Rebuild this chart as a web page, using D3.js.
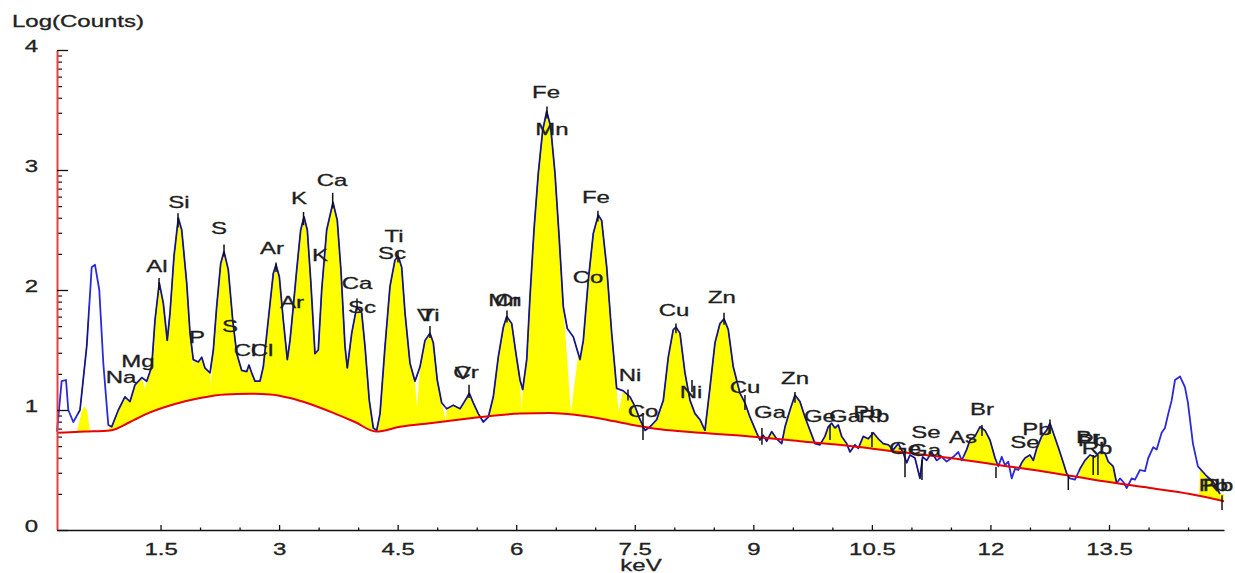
<!DOCTYPE html>
<html><head><meta charset="utf-8">
<script src="https://cdn.jsdelivr.net/npm/d3@7"></script>
<style>
body{margin:0;background:#fff}
svg{display:block}
text{font-family:"Liberation Sans",Arial,sans-serif}
</style>
</head><body>
<svg id="c" width="1235" height="573"></svg>
<script>
// ---------------- data ----------------
const specKeV = [0.19,0.215,0.249,0.304,0.333,0.396,0.481,0.566,0.629,0.671,
0.725,0.776,0.839,0.882,0.966,1.050,1.114,1.177,1.262,1.325,
1.388,1.430,1.484,1.535,1.585,1.620,1.670,1.725,1.768,1.831,
1.873,1.914,1.978,2.021,2.062,2.126,2.168,2.210,2.261,2.303,
2.357,2.413,2.464,2.527,2.590,2.619,2.653,2.695,2.758,2.800,
2.863,2.927,2.961,3.003,3.053,3.104,3.138,3.172,3.223,3.273,
3.315,3.357,3.400,3.454,3.496,3.539,3.602,3.682,3.736,3.783,
3.834,3.863,3.919,3.982,4.045,4.087,4.141,4.192,4.235,4.277,
4.340,4.403,4.466,4.508,4.551,4.593,4.656,4.719,4.783,4.846,
4.909,4.951,5.001,5.057,5.120,5.204,5.289,5.373,5.406,5.457,
5.520,5.583,5.647,5.710,5.773,5.837,5.880,5.943,5.997,6.048,
6.082,6.133,6.174,6.225,6.279,6.335,6.386,6.436,6.491,6.545,
6.596,6.646,6.722,6.807,6.849,6.912,6.975,7.038,7.081,7.145,
7.208,7.271,7.355,7.439,7.503,7.566,7.630,7.693,7.777,7.861,
7.924,7.987,8.022,8.072,8.135,8.199,8.262,8.325,8.388,8.452,
8.515,8.578,8.629,8.683,8.746,8.831,8.894,
8.958,9.042,9.084,9.126,9.169,9.232,9.295,9.359,9.401,9.464,
9.527,9.590,9.654,9.717,9.780,9.843,9.906,9.948,9.991,10.033,
10.075,10.118,10.181,10.223,10.286,10.328,10.391,10.454,10.518,10.581,
10.644,10.708,10.771,10.834,10.898,10.940,10.982,11.045,11.108,11.142,
11.193,11.256,11.319,11.383,11.446,11.530,11.594,11.637,11.699,11.741,
11.804,11.868,11.931,11.994,12.058,12.100,12.143,12.184,12.226,12.269,
12.311,12.352,12.395,12.437,12.500,12.542,12.585,12.648,12.711,12.753,
12.795,12.858,12.922,12.965,13.006,13.070,13.133,13.196,13.259,13.322,
13.386,13.449,13.491,13.553,13.597,13.639,13.681,13.724,13.787,13.829,
13.892,13.955,13.997,14.060,14.103,14.166,14.208,14.250,14.293,14.335,
14.398,14.461,14.499,14.562,14.625,14.735,14.819,14.904];

const specLog = [0.82,1.0,1.24,1.25,1.0,0.90,1.0,1.53,2.19,2.21,
2.0,1.39,0.875,0.86,1.0,1.11,1.07,1.21,1.27,1.24,
1.36,1.75,2.06,1.89,1.58,1.81,2.28,2.60,2.50,2.06,
1.64,1.42,1.40,1.44,1.35,1.31,1.50,1.86,2.22,2.32,
2.17,1.75,1.47,1.33,1.32,1.375,1.31,1.24,1.24,1.36,
1.75,2.14,2.21,2.11,1.75,1.42,1.58,1.81,2.17,2.50,
2.61,2.50,2.08,1.47,1.50,2.0,2.5,2.73,2.58,2.16,
1.53,1.35,1.64,1.86,1.81,1.53,1.08,0.85,0.83,0.97,
1.53,2.03,2.25,2.28,2.19,1.81,1.39,1.24,1.36,1.58,
1.64,1.56,1.25,1.06,1.01,1.04,1.01,1.10,1.14,1.06,
0.97,0.90,0.94,1.11,1.44,1.69,1.78,1.72,1.47,1.25,
1.17,1.42,1.94,2.50,2.97,3.33,3.49,3.36,2.97,2.42,
1.86,1.68,1.61,1.42,1.58,2.08,2.47,2.625,2.58,2.19,
1.64,1.18,1.16,1.11,1.03,0.92,0.83,0.86,0.92,1.08,
1.44,1.67,1.69,1.64,1.31,1.08,0.97,0.92,0.83,1.19,
1.56,1.72,1.76,1.67,1.36,1.14,1.06,
0.94,0.81,0.75,0.79,0.74,0.82,0.76,0.72,0.86,1.0,
1.125,1.07,0.94,0.83,0.72,0.71,0.78,0.86,0.89,0.85,
0.875,0.78,0.72,0.65,0.71,0.68,0.78,0.76,0.81,0.76,
0.72,0.71,0.67,0.72,0.64,0.56,0.625,0.60,0.43,0.61,
0.58,0.65,0.58,0.61,0.57,0.61,0.65,0.58,0.67,0.75,
0.78,0.86,0.83,0.75,0.60,0.53,0.61,0.54,0.57,0.43,
0.51,0.50,0.56,0.60,0.625,0.58,0.68,0.78,0.83,0.89,
0.81,0.69,0.56,0.47,0.43,0.42,0.51,0.58,0.625,0.61,
0.65,0.64,0.57,0.53,0.39,0.43,0.40,0.35,0.43,0.42,
0.50,0.49,0.60,0.69,0.67,0.81,0.85,0.97,1.08,1.25,
1.28,1.19,1.06,0.72,0.53,0.45,0.40,0.30];

// fitted background (red line)
const bgKeV = [0.19,0.544,0.861,1.114,1.367,1.683,1.999,2.316,2.632,2.885,3.138,3.391,3.707,3.960,4.226,
4.530,4.909,5.289,5.668,6.048,6.427,6.744,7.060,7.440,7.819,8.325,8.958,9.590,10.223,10.855,11.488,
12.121,12.753,13.386,14.019,14.525,14.955];
const bgLog = [0.81,0.82,0.83,0.90,0.98,1.05,1.10,1.13,1.135,1.13,1.10,1.05,0.97,0.90,0.82,
0.86,0.89,0.92,0.95,0.97,0.975,0.96,0.93,0.88,0.84,0.81,0.78,0.74,0.70,0.65,0.60,
0.54,0.48,0.41,0.35,0.30,0.24];

// fitted peak envelope (upper limit of yellow area)
const fitKeV = [0.19,0.43,0.443,0.506,0.538,0.570,0.608,0.620,0.835,0.861,1.253,1.303,1.354,
1.860,1.911,1.961,2.088,2.132,2.176,4.669,4.745,4.821,5.023,5.112,5.188,6.010,6.067,6.124,
6.567,6.592,6.693,6.782,6.833,7.238,7.294,7.351,11.311,11.323,11.665,11.678,12.070,12.083,
12.361,12.374,12.981,12.994,13.120,13.133,13.589,13.602,14.639,14.651,14.955];
const fitLog = [0,0,0.82,1.0,1.03,1.0,0.82,0,0,4,4,1.18,4,
4,1.33,4,4,1.2,4,4,1.02,4,4,0.9,4,4,1.0,4,
4,1.9,0.98,1.45,4,4,0.98,4,4,0,0,4,4,0,
0,4,4,0,0,4,4,0,0,4,4];

// element labels (position in keV / Log(Counts) of the label baseline)
const labelNames = ["Na","Mg","Al","Si","P","S","S","Cl","Cl","Ar","Ar","K","K","Ca","Ca","Sc",
"Ti","Sc","Ti","V","Cr","V","Mn","Cr","Fe","Mn","Fe","Co","Ni","Co","Cu","Ni","Zn","Cu","Ga",
"Zn","Ge","Ga","Pb","Rb","Se","Ge","Ga","Br","As","Pb","Se","Br","Pb","Rb","Pb","Rb"];
const labelKeV = [1.000,1.215,1.455,1.734,1.961,2.240,2.379,2.569,2.784,2.910,3.163,3.252,3.517,3.669,3.986,4.049,
4.454,4.428,4.909,4.846,5.365,5.327,5.858,5.890,6.377,6.453,7.009,6.908,7.440,7.604,7.996,8.211,8.603,8.895,9.211,
9.527,9.843,10.160,10.451,10.527,11.184,10.919,11.172,11.893,11.653,12.589,12.437,13.234,13.290,13.348,14.820,14.880];
const labelLog = [1.225,1.358,2.15,2.683,1.558,2.467,1.65,1.45,1.45,2.30,1.85,2.717,2.242,2.867,2.008,1.808,
2.40,2.258,1.742,1.742,1.267,1.258,1.867,1.867,3.60,3.292,2.725,2.058,1.242,0.942,1.783,1.10,1.892,1.142,0.933,
1.217,0.90,0.90,0.933,0.90,0.767,0.633,0.617,0.958,0.725,0.792,0.683,0.725,0.70,0.633,0.325,0.325];

// peak marker strokes
const markKeV = [1.481,1.721,2.303,2.961,3.309,3.678,3.986,4.504,4.909,5.403,5.883,6.389,7.034,7.414,7.604,
8.021,8.224,8.629,8.894,9.109,9.527,9.970,10.501,10.919,11.134,11.893,12.070,12.753,12.985,13.300,13.360,14.930];
const markTop = [2.10,2.64,2.38,2.23,2.65,2.81,1.93,2.32,1.70,1.21,1.83,3.53,2.66,1.17,0.975,
1.72,1.25,1.81,1.125,0.85,1.15,0.875,0.817,0.667,0.583,0.875,0.525,0.92,0.458,0.625,0.625,0.29];
const markBot = [2.0,2.52,2.28,2.15,2.54,2.68,1.83,2.23,1.60,1.10,1.73,3.43,2.57,1.08,0.75,
1.64,1.15,1.71,1.0,0.71,1.06,0.75,0.69,0.44,0.417,0.783,0.433,0.80,0.333,0.458,0.458,0.167];

const xTicks = [1.5,3,4.5,6,7.5,9,10.5,12,13.5];
const xMinor = [2,2.5,3.5,4,5,5.5,6.5,7,8,8.5,9.5,10,11,11.5,12.5,13,14,14.5];
const yTicks = [0,1,2,3,4];
const yMinor = [0.301,0.477,0.602,0.699,0.778,0.845,0.903,0.954,
1.301,1.477,1.602,1.699,1.778,1.845,1.903,1.954,
2.301,2.477,2.602,2.699,2.778,2.845,2.903,2.954,
3.301,3.477,3.602,3.699,3.778,3.845,3.903,3.954];

// ---------------- drawing ----------------
const svg = d3.select('#c');
svg.append('rect').attr('width',1235).attr('height',573).attr('fill','#fff');
const x = d3.scaleLinear().domain([0.19,14.955]).range([57,1224]);
const y = d3.scaleLinear().domain([0,4]).range([530,50]);

const specF = d3.scaleLinear().domain(specKeV).range(specLog).clamp(true);
const bgF = d3.scaleLinear().domain(bgKeV).range(bgLog).clamp(true);
const fitF = d3.scaleLinear().domain(fitKeV).range(fitLog).clamp(true);
const grid = Array.from(new Set([...specKeV, ...bgKeV, ...fitKeV])).sort((a,b)=>a-b);
const fillPts = grid.map(k => {
  const b = bgF(k);
  return {k, b, t: Math.max(b, Math.min(fitF(k), specF(k))), on: fitF(k) > b + 0.01};
});

// yellow fitted peak area
svg.append('path').datum(fillPts)
  .attr('fill', '#ffff00')
  .attr('d', d3.area().x(d => x(d.k)).y0(d => y(d.b)).y1(d => y(d.t)));

// clip for the dark overlay of the spectrum within fitted regions
svg.append('clipPath').attr('id','fitclip').append('path').datum(fillPts)
  .attr('d', d3.area().x(d => x(d.k)).y0(y(-0.3)).y1(d => d.on ? y(4.3) : y(-0.3)));

const spec = specKeV.map((k,i) => ({k, v: specLog[i]}));
const line = d3.line().x(d => x(d.k)).y(d => y(d.v));
svg.append('path').datum(spec)
  .attr('fill','none').attr('stroke','#2a2ad8').attr('stroke-width',1.8)
  .attr('stroke-linejoin','round').attr('d', line);
svg.append('path').datum(spec)
  .attr('fill','none').attr('stroke','#141450').attr('stroke-width',1)
  .attr('clip-path','url(#fitclip)').attr('d', line);

// background line
const bg = bgKeV.map((k,i) => ({k, v: bgLog[i]}));
svg.append('path').datum(bg)
  .attr('fill','none').attr('stroke','#e80000').attr('stroke-width',2)
  .attr('d', d3.line().x(d => x(d.k)).y(d => y(d.v)).curve(d3.curveMonotoneX));

// markers
svg.append('g').selectAll('line').data(markKeV).join('line')
  .attr('x1', d => x(d)).attr('x2', d => x(d))
  .attr('y1', (d,i) => y(markTop[i])).attr('y2', (d,i) => y(markBot[i]))
  .attr('stroke','#111').attr('stroke-width',1.5);

// axes
const fontStyle = g => g.attr('font-family','"Liberation Sans",Arial,sans-serif').attr('font-size',16);

const gx = svg.append('g').attr('transform','translate(0,530)')
  .call(d3.axisBottom(x).tickValues(xTicks).tickSize(-5).tickSizeOuter(0).tickFormat(d3.format('')))
  .call(fontStyle);
gx.select('.domain').attr('stroke','#111').attr('stroke-width',1.5);
gx.selectAll('.tick line').attr('stroke','#111').attr('stroke-width',1.3);
gx.selectAll('.tick text').attr('fill','#222').attr('stroke','#222').attr('stroke-width',0.3)
  .attr('y',0).attr('dy',0).attr('transform','translate(0,25) scale(1.5,1)');

const gxm = svg.append('g').attr('transform','translate(0,530)')
  .call(d3.axisBottom(x).tickValues(xMinor).tickSize(-2.5).tickFormat(''));
gxm.select('.domain').remove();
gxm.selectAll('.tick line').attr('stroke','#111').attr('stroke-width',1.3);

const gym = svg.append('g').attr('transform','translate(57,0)')
  .call(d3.axisLeft(y).tickValues(yMinor).tickSize(-5).tickFormat(''));
gym.select('.domain').remove();
gym.selectAll('.tick line').attr('stroke','#111').attr('stroke-width',1.2);

const gy = svg.append('g').attr('transform','translate(57,0)')
  .call(d3.axisLeft(y).tickValues(yTicks).tickSize(-11).tickSizeOuter(0).tickFormat(d3.format('d')))
  .call(fontStyle);
gy.select('.domain').attr('stroke','#e84040').attr('stroke-width',2);
gy.selectAll('.tick line').attr('stroke','#111').attr('stroke-width',1.3);
gy.selectAll('.tick text').attr('fill','#222').attr('stroke','#222').attr('stroke-width',0.3)
  .attr('x',0).attr('dy',0).attr('y',0)
  .attr('text-anchor','end').attr('transform','translate(-19,1) scale(1.5,1)');

// axis titles
svg.append('text').text('Log(Counts)').attr('font-size',16).attr('fill','#222')
  .attr('stroke','#222').attr('stroke-width',0.3)
  .attr('transform','translate(12,27) scale(1.5,1)');
svg.append('text').text('keV').attr('font-size',16).attr('fill','#222').attr('text-anchor','middle')
  .attr('stroke','#222').attr('stroke-width',0.3)
  .attr('transform','translate(641,571) scale(1.5,1)');

// element labels
svg.append('g').selectAll('text').data(labelNames).join('text')
  .text(d => d).attr('font-size',16).attr('fill','#1e1e1e').attr('text-anchor','middle')
  .attr('stroke','#1e1e1e').attr('stroke-width',0.3)
  .attr('transform', (d,i) => `translate(${x(labelKeV[i])},${y(labelLog[i])}) scale(1.5,1)`);
</script>
</body></html>
